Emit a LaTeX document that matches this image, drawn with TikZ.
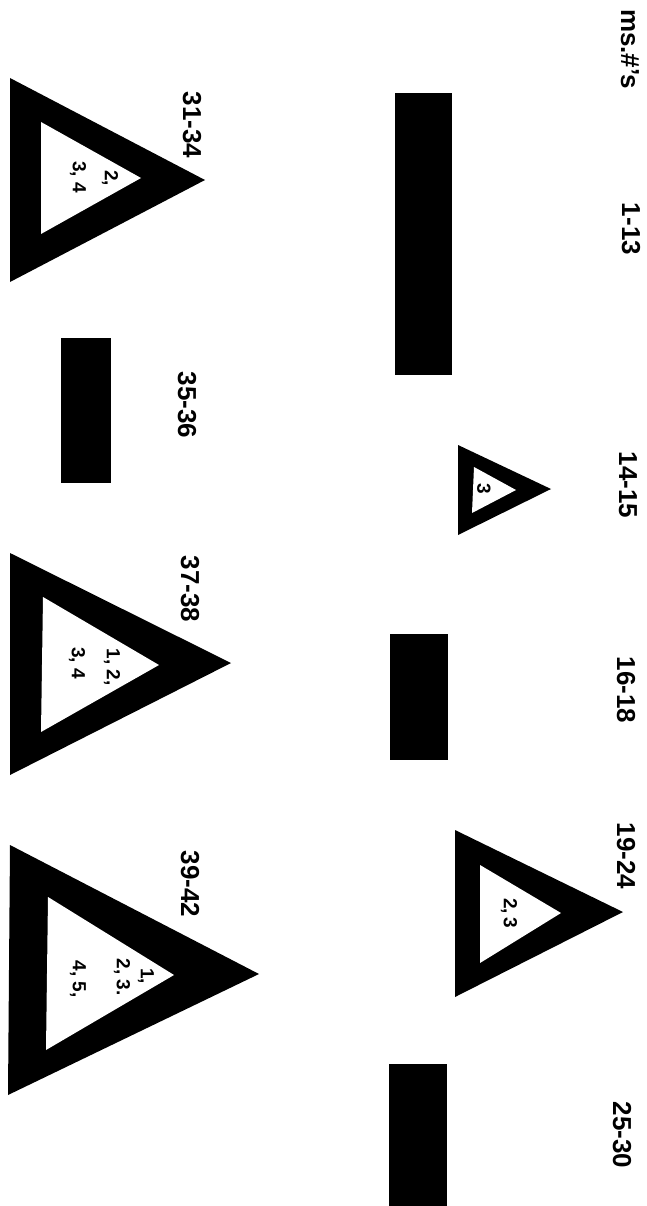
\documentclass[tikz,border=0pt]{standalone}
\usepackage{fontspec}
\setmainfont{Liberation Sans}
\begin{document}
\begin{tikzpicture}[x=1pt,y=-1pt,
  lbl/.style={rotate=-90,font=\bfseries\fontsize{26}{26}\selectfont,inner sep=0pt},
  inl/.style={rotate=-90,font=\bfseries\fontsize{19}{19}\selectfont,inner sep=0pt},
  barfill/.style={fill=black},
  tri/.style={fill=black},
  hole/.style={fill=white}]
\useasboundingbox (0,0) rectangle (646,1206);
\fill[white] (0,0) rectangle (646,1206);
% bars
\fill[barfill] (395,93) rectangle (452,375);
\fill[barfill] (390,634) rectangle (448,760);
\fill[barfill] (389,1064) rectangle (447,1206);
\fill[barfill] (61,338) rectangle (111,483);
% triangles
\fill[tri] (10,78) -- (205,180) -- (10,282) -- cycle;
\fill[hole] (41,122) -- (141,178) -- (41,234) -- cycle;
\fill[tri] (458,445) -- (551,489) -- (458,535) -- cycle;
\fill[hole] (474,467) -- (516,490) -- (472,513) -- cycle;
\fill[tri] (10,553) -- (231,663) -- (10,775) -- cycle;
\fill[hole] (43,597) -- (159,665) -- (41,732) -- cycle;
\fill[tri] (455,830) -- (623,912) -- (455,997) -- cycle;
\fill[hole] (480,865) -- (561,913) -- (480,963) -- cycle;
\fill[tri] (10,845) -- (259,974) -- (8,1095) -- cycle;
\fill[hole] (48,897) -- (174,975) -- (46,1050) -- cycle;
% labels
\node[lbl] (hdr) at (630,49) {ms.\#'s};
\node[lbl] (a) at (631,229) {1-13};
\node[lbl] (b) at (628,485) {14-15};
\node[lbl] (c) at (626,690) {16-18};
\node[lbl] (d) at (626,856) {19-24};
\node[lbl] (e) at (622,1135) {25-30};
\node[lbl] (f) at (192,125) {31-34};
\node[lbl] (g) at (187,405) {35-36};
\node[lbl] (h) at (190,589) {37-38};
\node[lbl] (k) at (190,884) {39-42};
% inner texts
\node[inl] (f1) at (110,178) {2,};
\node[inl] (f2) at (78,177) {3, 4};
\node[inl] (b1) at (484,489) {3};
\node[inl] (h1) at (112,667) {1, 2,};
\node[inl] (h2) at (77,663) {3, 4};
\node[inl] (d1) at (509,913) {2,\,3};
\node[inl] (k1) at (146,976) {1,};
\node[inl] (k2) at (122,977) {2, 3.};
\node[inl] (k3) at (78,979) {4, 5,};
\end{tikzpicture}
\end{document}
